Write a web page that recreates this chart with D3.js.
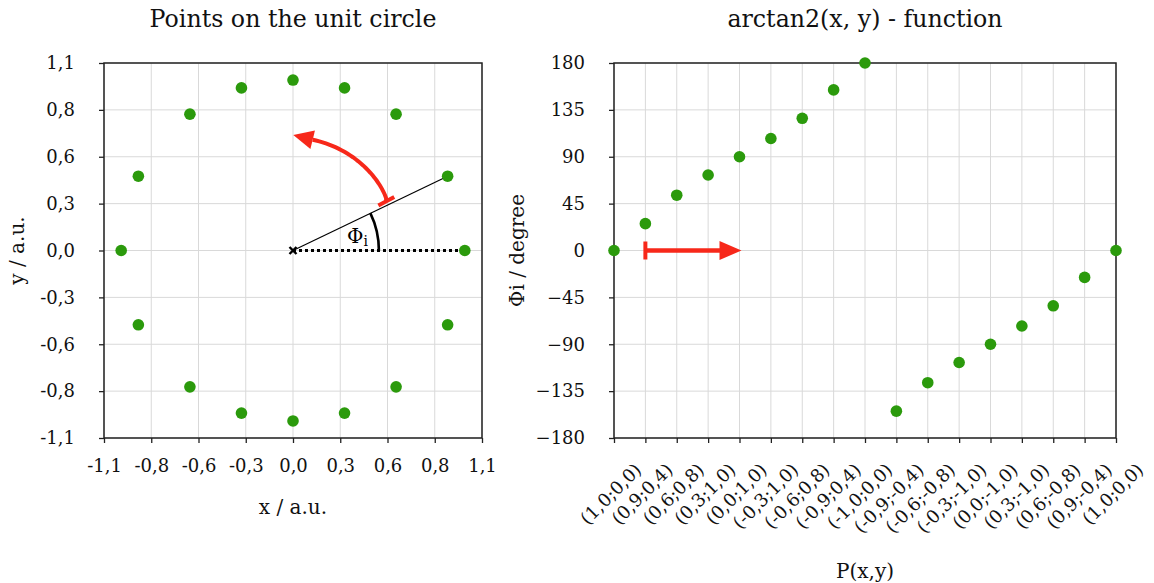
<!DOCTYPE html>
<html>
<head>
<meta charset="utf-8">
<script src="https://cdn.jsdelivr.net/npm/d3@7"></script>
<style>
  html, body { margin: 0; padding: 0; background: #fff; }
  svg { display: block; font-family: "DejaVu Serif", serif; }
  .grid line { stroke: #d9d9d9; stroke-width: 1; }
  .axis path.domain { display: none; }
  .axis line { stroke: #222; stroke-width: 1.3; }
  .axis text { fill: #111; font-size: 18px; font-family: "DejaVu Serif", serif; }
</style>
</head>
<body>
<svg id="chart" width="1154" height="583"></svg>
<script>
// Points on the unit circle, x / y coordinates
const pointX = [1, 0.9, 0.6, 0.3, 0, -0.3, -0.6, -0.9, -1, -0.9, -0.6, -0.3, 0, 0.3, 0.6, 0.9, 1];
const pointY = [0, 0.436, 0.8, 0.954, 1, 0.954, 0.8, 0.436, 0, -0.436, -0.8, -0.954, -1, -0.954, -0.8, -0.436, 0];

// arctan2 result per point, in degrees
const phiDeg = [0, 25.8, 53.1, 72.5, 90, 107.5, 126.9, 154.2, 180, -154.2, -126.9, -107.5, -90, -72.5, -53.1, -25.8, 0];

// Category labels P(x;y)
const categories = ["(1,0;0,0)", "(0,9;0,4)", "(0,6;0,8)", "(0,3;1,0)", "(0,0;1,0)", "(-0,3;1,0)",
  "(-0,6;0,8)", "(-0,9;0,4)", "(-1,0;0,0)", "(-0,9;-0,4)", "(-0,6;-0,8)", "(-0,3;-1,0)",
  "(0,0;-1,0)", "(0,3;-1,0)", "(0,6;-0,8)", "(0,9;-0,4)", "(1,0;0,0)"];

// Left chart tick values and labels
const unitTicks = [-1.1, -0.825, -0.55, -0.275, 0, 0.275, 0.55, 0.825, 1.1];
const unitTickLabels = ["-1,1", "-0,8", "-0,6", "-0,3", "0,0", "0,3", "0,6", "0,8", "1,1"];

// Right chart tick values
const degTicks = [-180, -135, -90, -45, 0, 45, 90, 135, 180];

const GREEN = "#2b9a0c";
const RED = "#f7281a";

const svg = d3.select("#chart");

/* ---------------- Left chart: unit circle ---------------- */
const L = { left: 104, right: 482, top: 63, bottom: 438 };
const xL = d3.scaleLinear().domain([-1.1, 1.1]).range([L.left, L.right]);
const yL = d3.scaleLinear().domain([-1.1, 1.1]).range([L.bottom, L.top]);

const gL = svg.append("g");

gL.append("g").attr("class", "grid")
  .selectAll("line.v").data(unitTicks).join("line")
  .attr("x1", d => xL(d)).attr("x2", d => xL(d))
  .attr("y1", L.top).attr("y2", L.bottom);
gL.append("g").attr("class", "grid")
  .selectAll("line.h").data(unitTicks).join("line")
  .attr("y1", d => yL(d)).attr("y2", d => yL(d))
  .attr("x1", L.left).attr("x2", L.right);

gL.append("rect")
  .attr("x", L.left).attr("y", L.top)
  .attr("width", L.right - L.left).attr("height", L.bottom - L.top)
  .attr("fill", "none").attr("stroke", "#222").attr("stroke-width", 1.5);

gL.append("g").attr("class", "axis")
  .attr("transform", `translate(0,${L.bottom})`)
  .call(d3.axisBottom(xL).tickValues(unitTicks)
    .tickFormat((d, i) => unitTickLabels[i]).tickSize(5).tickPadding(16));

gL.append("g").attr("class", "axis")
  .attr("transform", `translate(${L.left},0)`)
  .call(d3.axisLeft(yL).tickValues(unitTicks)
    .tickFormat((d, i) => unitTickLabels[i]).tickSize(5).tickPadding(24));

// Angle construction around the origin
const ox = xL(0), oy = yL(0);
const refIdx = 1;
gL.append("line")
  .attr("x1", ox).attr("y1", oy)
  .attr("x2", xL(pointX[refIdx])).attr("y2", yL(pointY[refIdx]))
  .attr("stroke", "#000").attr("stroke-width", 1.2);
gL.append("line")
  .attr("x1", ox).attr("y1", oy)
  .attr("x2", xL(pointX[0])).attr("y2", yL(pointY[0]))
  .attr("stroke", "#000").attr("stroke-width", 3).attr("stroke-dasharray", "3,3");

// Angle arc (radius 0.5 in data units)
const phiRad = phiDeg[refIdx] * Math.PI / 180;
const rAngle = xL(0.5) - xL(0);
gL.append("path")
  .attr("d", d3.arc()({ innerRadius: rAngle, outerRadius: rAngle, startAngle: Math.PI / 2 - phiRad, endAngle: Math.PI / 2 }))
  .attr("transform", `translate(${ox},${oy})`)
  .attr("fill", "none").attr("stroke", "#000").attr("stroke-width", 2.6);

const phiLabel = gL.append("text")
  .attr("x", xL(0.375)).attr("y", yL(0.045))
  .attr("text-anchor", "middle")
  .attr("font-size", 20).attr("fill", "#000");
phiLabel.append("tspan").text("Φ");
phiLabel.append("tspan").attr("font-size", 14).attr("dy", 3).text("i");

// Origin marker
const m = 3.5;
gL.append("path")
  .attr("d", `M${ox - m},${oy - m}L${ox + m},${oy + m}M${ox - m},${oy + m}L${ox + m},${oy - m}`)
  .attr("stroke", "#000").attr("stroke-width", 2.4);

// Red rotation arrow (counter-clockwise, in data-space polar coords)
const toPx = (r, deg) => [xL(r * Math.cos(deg * Math.PI / 180)), yL(r * Math.sin(deg * Math.PI / 180))];
const arcPts = d3.range(0, 31).map(i => {
  const t = i / 30;
  const deg = 28 + t * (80 - 28);
  const r = 0.615 + 0.045 * Math.sqrt(t);
  return toPx(r, deg);
});
gL.append("path")
  .attr("d", d3.line()(arcPts))
  .attr("fill", "none").attr("stroke", RED).attr("stroke-width", 4);

// flat start bar lying along the radius
const sDeg = 28, sR = 0.615;
const [sx, sy] = toPx(sR, sDeg);
const rdx = Math.cos(sDeg * Math.PI / 180), rdy = -Math.sin(sDeg * Math.PI / 180);
gL.append("line")
  .attr("x1", sx - rdx * 9).attr("y1", sy - rdy * 9)
  .attr("x2", sx + rdx * 9).attr("y2", sy + rdy * 9)
  .attr("stroke", RED).attr("stroke-width", 4);

// arrow head
function arrowHead(g, bx, by, dx, dy, len, halfW) {
  const n = Math.hypot(dx, dy); dx /= n; dy /= n;
  const px = -dy, py = dx;
  g.append("path")
    .attr("d", `M${bx + dx * len},${by + dy * len}L${bx + px * halfW},${by + py * halfW}L${bx - px * halfW},${by - py * halfW}Z`)
    .attr("fill", RED);
}
{
  const [bx, by] = arcPts[arcPts.length - 1];
  const [px, py] = arcPts[arcPts.length - 3];
  arrowHead(gL, bx, by, bx - px, by - py, 20, 9.5);
}

gL.append("g").selectAll("circle").data(pointX.slice(0, 16)).join("circle")
  .attr("cx", (d, i) => xL(pointX[i]))
  .attr("cy", (d, i) => yL(pointY[i]))
  .attr("r", 5.8).attr("fill", GREEN);

gL.append("text")
  .attr("x", (L.left + L.right) / 2).attr("y", 27)
  .attr("text-anchor", "middle").attr("font-size", 23.7).attr("fill", "#111")
  .text("Points on the unit circle");
gL.append("text")
  .attr("x", (L.left + L.right) / 2).attr("y", 514)
  .attr("text-anchor", "middle").attr("font-size", 20).attr("fill", "#111")
  .text("x / a.u.");
gL.append("text")
  .attr("transform", `translate(24,${(L.top + L.bottom) / 2}) rotate(-90)`)
  .attr("text-anchor", "middle").attr("font-size", 20).attr("fill", "#111")
  .text("y / a.u.");

/* ---------------- Right chart: arctan2 ---------------- */
const R = { left: 614, right: 1116, top: 63, bottom: 438 };
const idx = d3.range(categories.length);
const xR = d3.scalePoint().domain(idx).range([R.left, R.right]);
const yR = d3.scaleLinear().domain([-180, 180]).range([R.bottom, R.top]);

const gR = svg.append("g");

gR.append("g").attr("class", "grid")
  .selectAll("line").data(idx).join("line")
  .attr("x1", d => xR(d)).attr("x2", d => xR(d))
  .attr("y1", R.top).attr("y2", R.bottom);
gR.append("g").attr("class", "grid")
  .selectAll("line").data(degTicks).join("line")
  .attr("y1", d => yR(d)).attr("y2", d => yR(d))
  .attr("x1", R.left).attr("x2", R.right);

gR.append("rect")
  .attr("x", R.left).attr("y", R.top)
  .attr("width", R.right - R.left).attr("height", R.bottom - R.top)
  .attr("fill", "none").attr("stroke", "#222").attr("stroke-width", 1.5);

gR.append("g").attr("class", "axis")
  .attr("transform", `translate(${R.left},0)`)
  .call(d3.axisLeft(yR).tickValues(degTicks).tickSize(5).tickPadding(24));

const xAxisR = gR.append("g").attr("class", "axis")
  .attr("transform", `translate(0,${R.bottom})`)
  .call(d3.axisBottom(xR).tickFormat(i => categories[i]).tickSize(5));
xAxisR.selectAll("text")
  .attr("x", 0).attr("y", 0).attr("dy", 0)
  .attr("text-anchor", "end")
  .attr("transform", "translate(28,33) rotate(-45)");

// Red direction arrow along 0°
{
  const y0 = yR(0), x0 = xR(1), x1 = xR(4);
  gR.append("line").attr("x1", x0).attr("x2", x1 - 18).attr("y1", y0).attr("y2", y0)
    .attr("stroke", RED).attr("stroke-width", 4.5);
  gR.append("line").attr("x1", x0).attr("x2", x0).attr("y1", y0 - 9).attr("y2", y0 + 9)
    .attr("stroke", RED).attr("stroke-width", 4);
  arrowHead(gR, x1 - 20, y0, 1, 0, 22, 9.5);
}

gR.append("g").selectAll("circle").data(phiDeg).join("circle")
  .attr("cx", (d, i) => xR(i))
  .attr("cy", d => yR(d))
  .attr("r", 5.8).attr("fill", GREEN);

gR.append("text")
  .attr("x", (R.left + R.right) / 2).attr("y", 27)
  .attr("text-anchor", "middle").attr("font-size", 23.7).attr("fill", "#111")
  .text("arctan2(x, y) - function");
gR.append("text")
  .attr("x", (R.left + R.right) / 2).attr("y", 578)
  .attr("text-anchor", "middle").attr("font-size", 20).attr("fill", "#111")
  .text("P(x,y)");
gR.append("text")
  .attr("transform", `translate(524,${(R.top + R.bottom) / 2}) rotate(-90)`)
  .attr("text-anchor", "middle").attr("font-size", 20).attr("fill", "#111")
  .text("Φi / degree");
</script>
</body>
</html>
